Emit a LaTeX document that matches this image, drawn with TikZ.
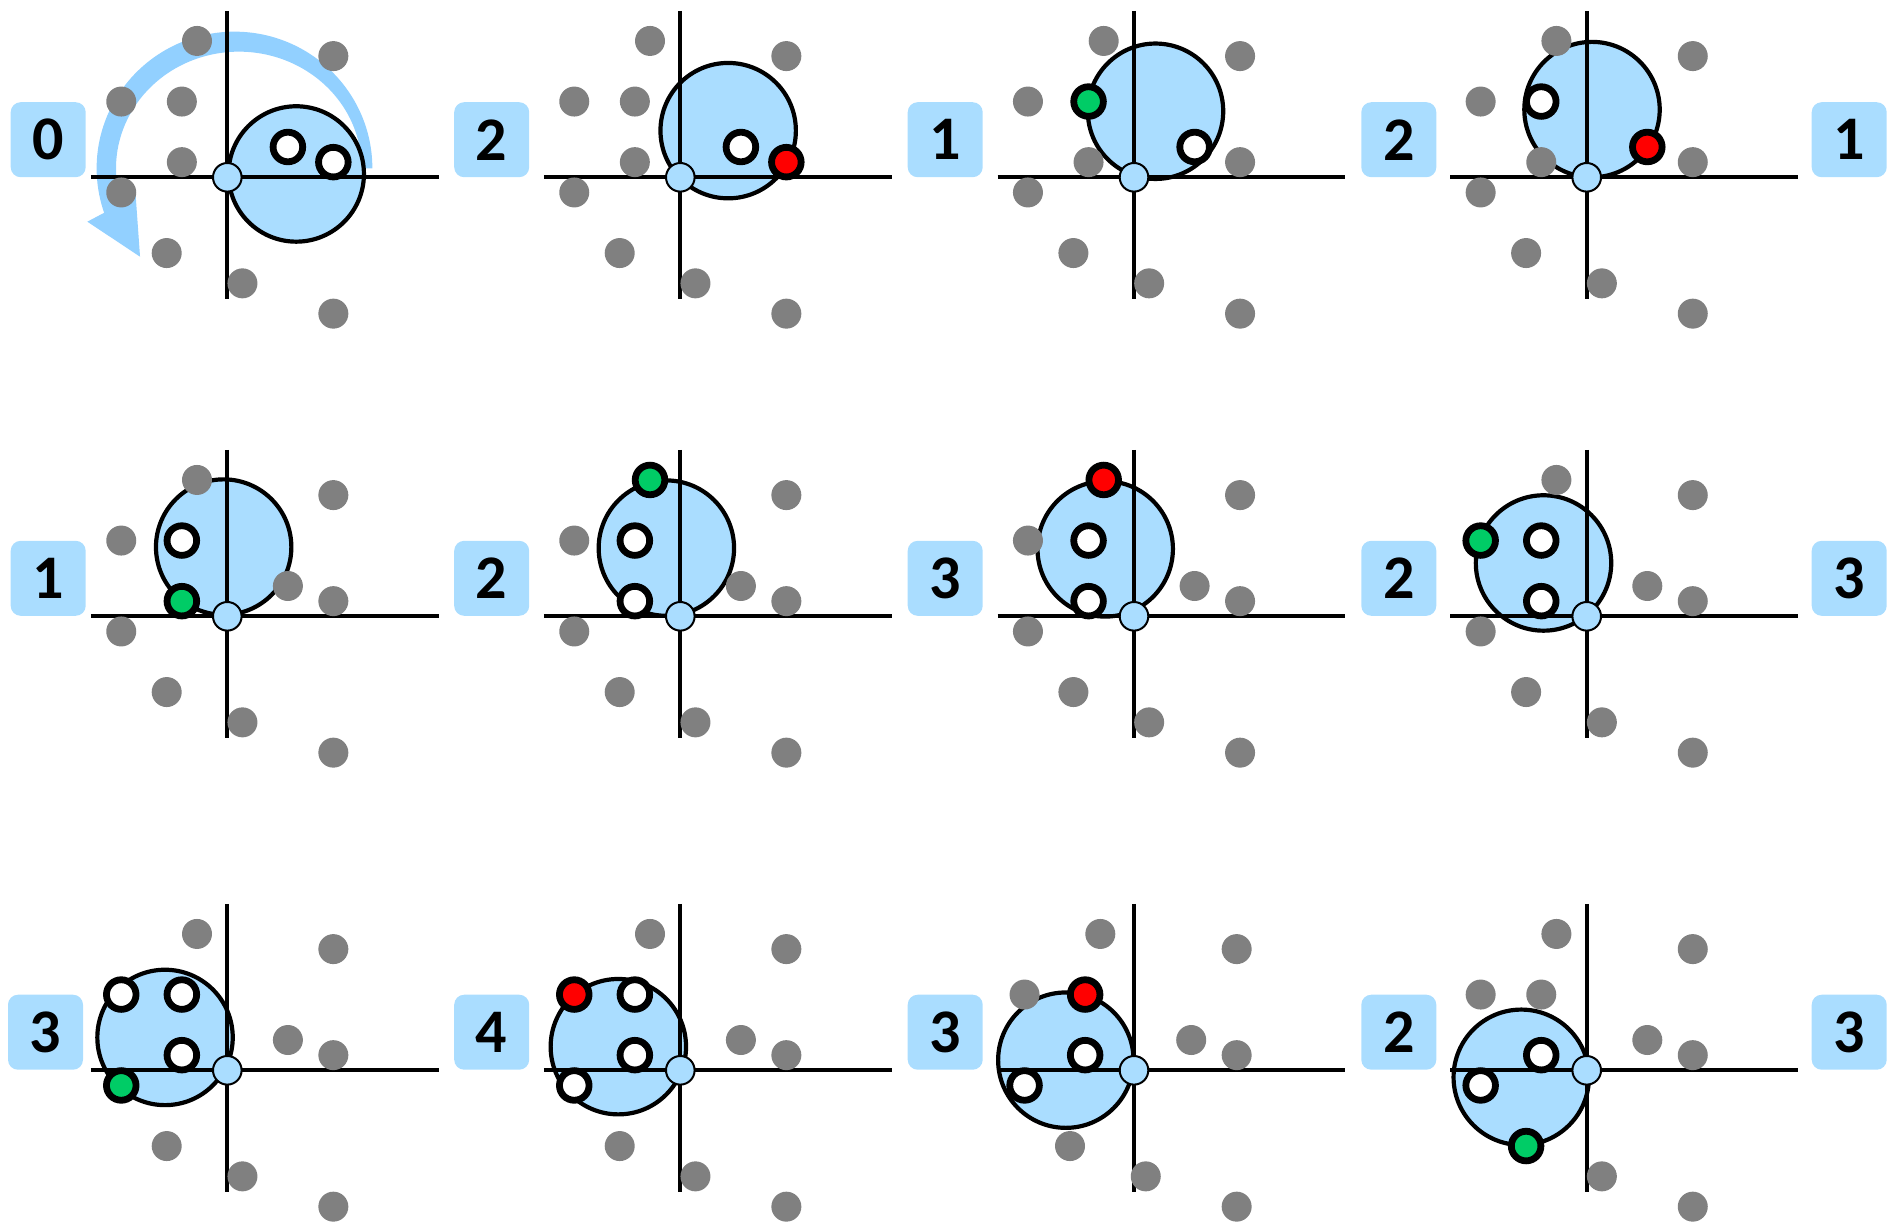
\documentclass[tikz,border=0pt]{standalone}
\usepackage{fontspec}
\setmainfont{Carlito}
\definecolor{lblue}{RGB}{170,221,255}
\definecolor{ablue}{RGB}{146,208,255}
\definecolor{dgray}{RGB}{128,128,128}
\definecolor{mygreen}{RGB}{0,204,102}
\definecolor{myred}{RGB}{255,0,0}
\tikzset{
 bigc/.style={fill=lblue, draw=black, line width=4.2pt},
 axisline/.style={draw=black, line width=4.3pt},
 graydot/.style={fill=dgray},
 specdot/.style={draw=black, line width=6.8pt},
 origdot/.style={fill=lblue, draw=black, line width=2pt},
 lbl/.style={fill=lblue, rounded corners=10pt, minimum width=75pt, minimum height=75pt, inner sep=0pt, font=\bfseries\fontsize{62}{62}\selectfont},
 arrowband/.style={fill=ablue},
}
\newcommand\mypanel[6]{%
 \begin{scope}[shift={(#1,#2)}, x=15.15pt, y=15.15pt]
  \path[bigc] (#4,#5) circle (67.7pt);
  \draw[axisline] (-9,0) -- (13.95,0);
  \draw[axisline] (0,10.98) -- (0,-8.03);
  \begin{scope}[xshift=#3pt]
   \foreach \pa/\pb in {-2/9,7/8,-7/5,-3/5,-3/1,4/2,7/1,-7/-1,-4/-5,1/-7,7/-9}
     \fill[graydot] (\pa,\pb) circle (15pt);
   \foreach \pa/\pb/\pc in {#6}
     \path[specdot, fill=\pc] (\pa,\pb) circle (14.8pt);
  \end{scope}
  \path[origdot] (0,0) circle (14.3pt);
 \end{scope}}
\begin{document}
\begin{tikzpicture}[x=1pt,y=-1pt]
\useasboundingbox (0,0) rectangle (1887,1223);
% rotation arrow
\begin{scope}[shift={(227.3,177.3)}, x=15.15pt, y=15.15pt]
 \fill[arrowband] (9.575,0.594) arc[start angle=0, end angle=199, x radius=9.10, y radius=9.02]
   -- (-9.24,-2.93) -- (-5.76,-5.24) -- (-6.05,-1.17) -- (-6.99,-1.657)
   arc[start angle=197, end angle=0, x radius=8.11, y radius=7.70] -- cycle;
\end{scope}
% row 0
\mypanel{227.3}{177.3}{0}{4.55}{0.22}{4/2/white,7/1/white}
\mypanel{680.3}{177.3}{0}{3.16}{3.08}{4/2/white,7/1/myred}
\mypanel{1134}{177.3}{0}{1.42}{4.36}{4/2/white,-3/5/mygreen}
\mypanel{1586.7}{177.3}{0}{0.35}{4.47}{-3/5/white,4/2/myred}
% row 1
\mypanel{227.3}{616.3}{0}{-0.24}{4.57}{-3/5/white,-3/1/mygreen}
\mypanel{680.3}{616.3}{0}{-0.92}{4.5}{-3/5/white,-3/1/white,-2/9/mygreen}
\mypanel{1134}{616.3}{0}{-1.9}{4.45}{-3/5/white,-3/1/white,-2/9/myred}
\mypanel{1586.7}{616.3}{0}{-2.85}{3.52}{-3/5/white,-3/1/white,-7/5/mygreen}
% row 2
\mypanel{227.3}{1070.3}{0}{-4.11}{2.17}{-7/5/white,-3/5/white,-3/1/white,-7/-1/mygreen}
\mypanel{680.3}{1070.3}{0}{-4.09}{1.56}{-7/5/myred,-3/5/white,-3/1/white,-7/-1/white}
\mypanel{1134}{1070.3}{-3.4}{-4.5}{0.67}{-3/5/myred,-3/1/white,-7/-1/white}
\mypanel{1586.7}{1070.3}{0}{-4.32}{-0.46}{-3/1/white,-7/-1/white,-4/-5/mygreen}
% labels
\node[lbl] (L00) at (48.2,139.7) {0};
\node[lbl] (L01) at (491.7,139.7) {2};
\node[lbl] (L02) at (945.2,139.7) {1};
\node[lbl] (L03) at (1398.8,139.7) {2};
\node[lbl] (L04) at (1849.2,139.7) {1};
\node[lbl] (L10) at (48.2,578.3) {1};
\node[lbl] (L11) at (491.7,578.3) {2};
\node[lbl] (L12) at (945.2,578.3) {3};
\node[lbl] (L13) at (1398.8,578.3) {2};
\node[lbl] (L14) at (1849.2,578.3) {3};
\node[lbl] (L20) at (45.5,1032.2) {3};
\node[lbl] (L21) at (491.7,1032.2) {4};
\node[lbl] (L22) at (945.2,1032.2) {3};
\node[lbl] (L23) at (1398.8,1032.2) {2};
\node[lbl] (L24) at (1849.2,1032.2) {3};
\end{tikzpicture}
\end{document}
